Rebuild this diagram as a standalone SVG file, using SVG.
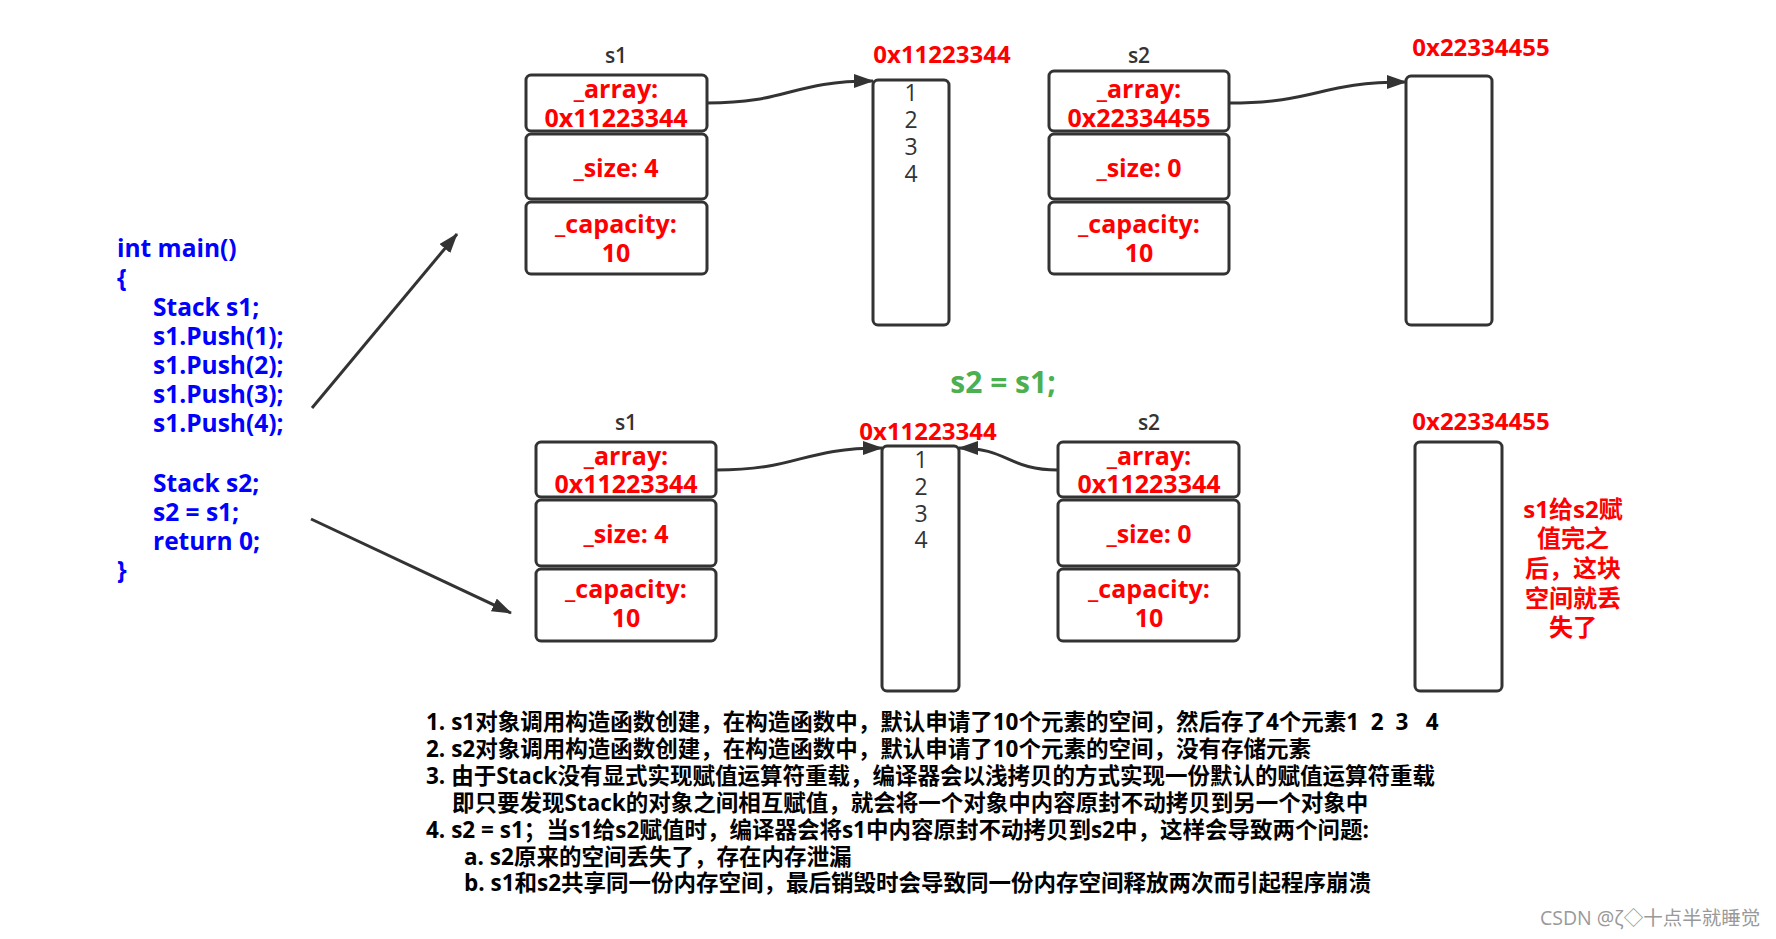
<svg xmlns="http://www.w3.org/2000/svg" width="1776" height="939" viewBox="0 0 1776 939">
<style>
text { font-family: "Open Sans", "Noto Sans CJK SC", sans-serif; }
.box { fill: #fff; stroke: #333; stroke-width: 3; }
.red { fill: #f00; font-weight: bold; font-size: 25px; text-anchor: middle; }
.addr { fill: #f00; font-weight: bold; font-size: 24px; text-anchor: middle; }
.lbl { fill: #333; font-weight: 600; font-size: 21px; text-anchor: middle; }
.num { fill: #333; font-weight: 500; font-size: 23px; text-anchor: middle; }
.code { fill: #00f; font-weight: bold; font-size: 24.5px; }
.note { fill: #000; font-weight: bold; font-size: 22.5px; white-space: pre; }
.side { fill: #f00; font-weight: bold; font-size: 24px; text-anchor: middle; }
.conn { fill: none; stroke: #333; stroke-width: 3; }
</style>
<defs>
<marker id="ah" markerUnits="userSpaceOnUse" markerWidth="20" markerHeight="14" viewBox="0 0 20 14" refX="19" refY="7" orient="auto"><path d="M0,0 L20,7 L0,14 z" fill="#333"/></marker>
</defs>
<rect width="1776" height="939" fill="#fff"/>

<g id="code">
<text class="code" x="117" y="257">int main()</text>
<text class="code" x="117" y="287">{</text>
<text class="code" x="153" y="316">Stack s1;</text>
<text class="code" x="153" y="345">s1.Push(1);</text>
<text class="code" x="153" y="374">s1.Push(2);</text>
<text class="code" x="153" y="403">s1.Push(3);</text>
<text class="code" x="153" y="432">s1.Push(4);</text>
<text class="code" x="153" y="492">Stack s2;</text>
<text class="code" x="153" y="521">s2 = s1;</text>
<text class="code" x="153" y="550">return 0;</text>
<text class="code" x="117" y="579">}</text>
</g>

<g id="top-s1">
<text class="lbl" x="616" y="63">s1</text>
<rect class="box" x="526" y="75" width="181" height="56" rx="5"/>
<rect class="box" x="526" y="134" width="181" height="65" rx="5"/>
<rect class="box" x="526" y="202" width="181" height="72" rx="5"/>
<text class="red" x="616" y="98">_array:</text>
<text class="red" x="616" y="127">0x11223344</text>
<text class="red" x="616" y="177">_size: 4</text>
<text class="red" x="616" y="233">_capacity:</text>
<text class="red" x="616" y="262">10</text>
</g>

<g id="top-mem1">
<text class="addr" x="942" y="63">0x11223344</text>
<rect class="box" x="873" y="80" width="76" height="245" rx="5"/>
<text class="num" x="911" y="101">1</text>
<text class="num" x="911" y="128">2</text>
<text class="num" x="911" y="155">3</text>
<text class="num" x="911" y="182">4</text>
</g>

<g id="top-s2">
<text class="lbl" x="1139" y="63">s2</text>
<rect class="box" x="1049" y="71" width="180" height="60" rx="5"/>
<rect class="box" x="1049" y="134" width="180" height="65" rx="5"/>
<rect class="box" x="1049" y="202" width="180" height="72" rx="5"/>
<text class="red" x="1139" y="98">_array:</text>
<text class="red" x="1139" y="127">0x22334455</text>
<text class="red" x="1139" y="177">_size: 0</text>
<text class="red" x="1139" y="233">_capacity:</text>
<text class="red" x="1139" y="262">10</text>
</g>

<g id="top-mem2">
<text class="addr" x="1481" y="56">0x22334455</text>
<rect class="box" x="1406" y="76" width="86" height="249" rx="5"/>
</g>

<g id="assign">
<text x="1003" y="393" fill="#4caf50" font-weight="bold" font-size="30" text-anchor="middle">s2 = s1;</text>
</g>

<g id="bot-s1">
<text class="lbl" x="626" y="430">s1</text>
<rect class="box" x="536" y="442" width="180" height="55" rx="5"/>
<rect class="box" x="536" y="500" width="180" height="66" rx="5"/>
<rect class="box" x="536" y="569" width="180" height="72" rx="5"/>
<text class="red" x="626" y="465">_array:</text>
<text class="red" x="626" y="493">0x11223344</text>
<text class="red" x="626" y="543">_size: 4</text>
<text class="red" x="626" y="598">_capacity:</text>
<text class="red" x="626" y="627">10</text>
</g>

<g id="bot-mem1">
<rect class="box" x="882" y="446" width="77" height="245" rx="5"/>
<text class="addr" x="928" y="440">0x11223344</text>
<text class="num" x="921" y="468">1</text>
<text class="num" x="921" y="495">2</text>
<text class="num" x="921" y="522">3</text>
<text class="num" x="921" y="548">4</text>
</g>

<g id="bot-s2">
<text class="lbl" x="1149" y="430">s2</text>
<rect class="box" x="1058" y="442" width="181" height="55" rx="5"/>
<rect class="box" x="1058" y="500" width="181" height="66" rx="5"/>
<rect class="box" x="1058" y="569" width="181" height="72" rx="5"/>
<text class="red" x="1149" y="465">_array:</text>
<text class="red" x="1149" y="493">0x11223344</text>
<text class="red" x="1149" y="543">_size: 0</text>
<text class="red" x="1149" y="598">_capacity:</text>
<text class="red" x="1149" y="627">10</text>
</g>

<g id="bot-mem2">
<text class="addr" x="1481" y="430">0x22334455</text>
<rect class="box" x="1415" y="442" width="87" height="249" rx="5"/>
<text class="side" x="1573" y="518">s1给s2赋</text>
<text class="side" x="1573" y="547">值完之</text>
<text class="side" x="1573" y="577">后，这块</text>
<text class="side" x="1573" y="607">空间就丢</text>
<text class="side" x="1573" y="636">失了</text>
</g>

<g id="connectors">
<path class="conn" marker-end="url(#ah)" d="M707,103 C790,103 790,81 873,81"/>
<path class="conn" marker-end="url(#ah)" d="M1229,103 C1318,103 1318,82 1406,82"/>
<path class="conn" marker-end="url(#ah)" d="M716,470 C800,470 800,448 882,448"/>
<path class="conn" marker-end="url(#ah)" d="M1058,470 C1008,470 1008,448 959,448"/>
<path class="conn" marker-end="url(#ah)" d="M312,408 L457,234"/>
<path class="conn" marker-end="url(#ah)" d="M311,519 L511,613"/>
</g>

<g id="notes">
<text class="note" x="426" y="730">1. s1对象调用构造函数创建，在构造函数中，默认申请了10个元素的空间，然后存了4个元素1  2  3   4</text>
<text class="note" x="426" y="757">2. s2对象调用构造函数创建，在构造函数中，默认申请了10个元素的空间，没有存储元素</text>
<text class="note" x="426" y="784">3. 由于Stack没有显式实现赋值运算符重载，编译器会以浅拷贝的方式实现一份默认的赋值运算符重载</text>
<text class="note" x="452" y="811">即只要发现Stack的对象之间相互赋值，就会将一个对象中内容原封不动拷贝到另一个对象中</text>
<text class="note" x="426" y="838">4. s2 = s1；当s1给s2赋值时，编译器会将s1中内容原封不动拷贝到s2中，这样会导致两个问题:</text>
<text class="note" x="464" y="865">a. s2原来的空间丢失了，存在内存泄漏</text>
<text class="note" x="464" y="891">b. s1和s2共享同一份内存空间，最后销毁时会导致同一份内存空间释放两次而引起程序崩溃</text>
</g>

<text x="1540" y="925" fill="#999" font-size="19.5">CSDN @ζ◇十点半就睡觉</text>
</svg>
